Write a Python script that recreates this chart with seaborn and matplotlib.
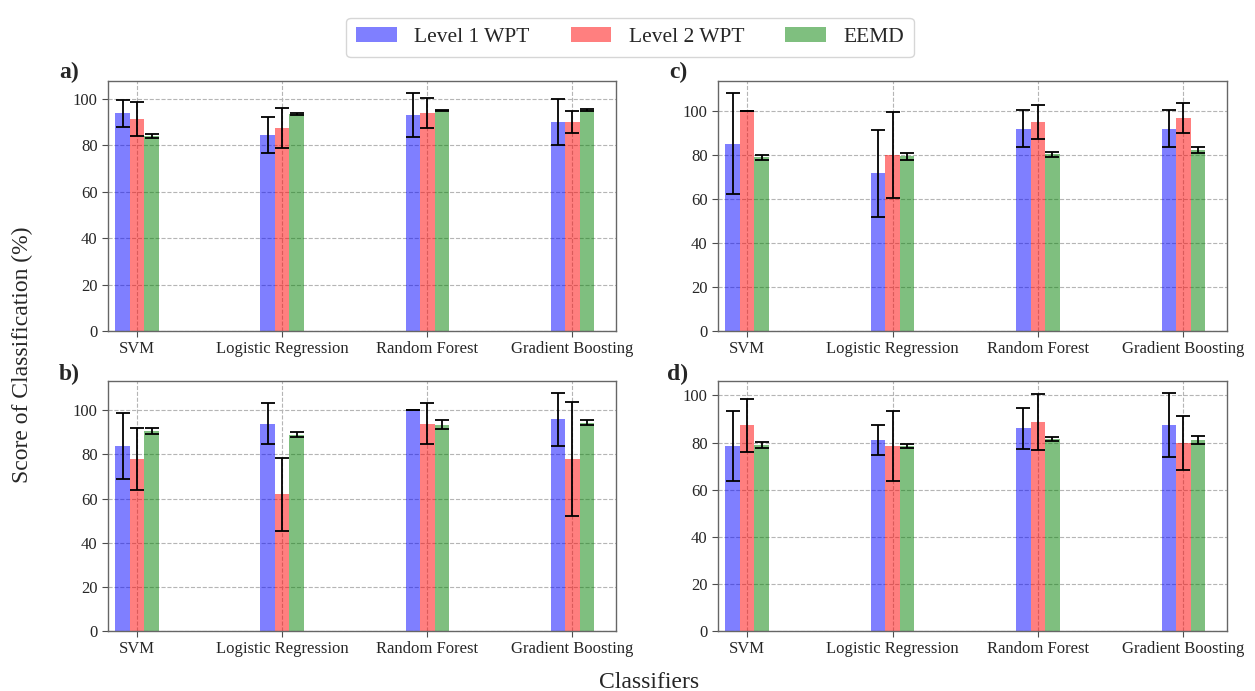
import numpy as np
import pandas as pd
import matplotlib
matplotlib.use("Agg")
import matplotlib.pyplot as plt
from matplotlib.patches import Patch
import seaborn as sns

classifiers = ["SVM", "Logistic Regression", "Random Forest", "Gradient Boosting"]
methods = ["Level 1 WPT", "Level 2 WPT", "EEMD"]

# panel a)
a_l1 = [93.8, 84.5, 93.1, 90.0]
a_l1_err = [5.8, 7.8, 9.4, 9.8]
a_l2 = [91.4, 87.5, 93.7, 90.0]
a_l2_err = [7.3, 8.7, 6.5, 4.9]
a_eemd = [84.1, 93.5, 95.0, 95.0]
a_eemd_err = [0.9, 0.3, 0.35, 0.5]

# panel b)
b_l1 = [84.0, 94.0, 100.0, 95.9]
b_l1_err = [15.0, 9.2, 0.0, 12.0]
b_l2 = [77.9, 61.9, 94.0, 77.9]
b_l2_err = [14.0, 16.7, 9.2, 26.0]
b_eemd = [90.8, 88.9, 93.4, 94.4]
b_eemd_err = [1.4, 1.1, 2.0, 1.2]

# panel c)
c_l1 = [85.0, 71.6, 91.7, 91.7]
c_l1_err = [23.0, 19.8, 8.4, 8.4]
c_l2 = [100.0, 80.0, 95.0, 96.7]
c_l2_err = [0.0, 19.5, 7.7, 6.7]
c_eemd = [78.7, 79.3, 80.1, 82.2]
c_eemd_err = [1.05, 1.6, 1.3, 1.3]

# panel d)
d_l1 = [78.7, 81.1, 86.1, 87.4]
d_l1_err = [14.9, 6.2, 8.8, 13.7]
d_l2 = [87.4, 78.6, 88.7, 79.9]
d_l2_err = [11.2, 15.0, 11.8, 11.5]
d_eemd = [79.0, 78.6, 81.5, 81.2]
d_eemd_err = [1.2, 1.0, 0.9, 1.8]

panels = [
    ("a)", (a_l1, a_l2, a_eemd), (a_l1_err, a_l2_err, a_eemd_err)),
    ("b)", (b_l1, b_l2, b_eemd), (b_l1_err, b_l2_err, b_eemd_err)),
    ("c)", (c_l1, c_l2, c_eemd), (c_l1_err, c_l2_err, c_eemd_err)),
    ("d)", (d_l1, d_l2, d_eemd), (d_l1_err, d_l2_err, d_eemd_err)),
]

colors = ["blue", "red", "green"]

sns.set_style("white")
plt.rcParams["font.family"] = ["Liberation Serif", "DejaVu Serif"]

fig = plt.figure(figsize=(12.55, 6.91), dpi=100)

W, H = 1255.0, 691.0
boxes = {
    "a)": (108, 81, 616, 331),
    "b)": (108, 381, 616, 631),
    "c)": (718, 81, 1227, 331),
    "d)": (718, 381, 1227, 631),
}
label_pos = {"a)": (59, 72), "b)": (59, 374), "c)": (669, 72), "d)": (667, 374)}

for tag, vals, errs in panels:
    x0, y0, x1, y1 = boxes[tag]
    ax = fig.add_axes([x0 / W, 1 - y1 / H, (x1 - x0) / W, (y1 - y0) / H])

    rows = []
    for m, v in zip(methods, vals):
        for c, s in zip(classifiers, v):
            rows.append({"Classifier": c, "Method": m, "Score": s})
    df = pd.DataFrame(rows)

    sns.barplot(data=df, x="Classifier", y="Score", hue="Method",
                order=classifiers, hue_order=methods, palette=colors,
                saturation=1, alpha=0.5, width=0.3, gap=0, errorbar=None,
                linewidth=0, legend=False, ax=ax, zorder=2)

    for cont, e in zip(ax.containers, errs):
        xs = [p.get_x() + p.get_width() / 2 for p in cont.patches]
        hs = [p.get_height() for p in cont.patches]
        ax.errorbar(xs, hs, yerr=e, fmt="none", ecolor="black",
                    elinewidth=1.3, capsize=5, capthick=1.3, zorder=3)

    ax.set_xlim(-0.2, 3.3)
    ax.margins(y=0.05)
    ax.autoscale(axis="y")
    ax.set_ylim(0, ax.get_ylim()[1])
    ax.set_yticks([0, 20, 40, 60, 80, 100])
    ax.grid(True, axis="both", linestyle="--", color="#b5b5b5", linewidth=0.8, zorder=0)
    ax.set_axisbelow(True)
    ax.set_xlabel("")
    ax.set_ylabel("")
    ax.tick_params(axis="both", labelsize=12, length=4, width=0.8,
                   color="0.3", direction="out", bottom=True, left=True)
    for sp in ax.spines.values():
        sp.set_color("0.4")
        sp.set_linewidth(1.0)

    lx, ly = label_pos[tag]
    fig.text(lx / W, 1 - ly / H, tag, fontsize=17, fontweight="bold",
             ha="left", va="center")

handles = [Patch(facecolor=c, alpha=0.5, edgecolor="none") for c in colors]
fig.legend(handles, methods, loc="upper center", bbox_to_anchor=(0.502, 0.99),
           ncol=3, fontsize=15.5, frameon=True, handlelength=1.9,
           handleheight=0.7, columnspacing=1.9, handletextpad=0.8,
           borderpad=0.45, edgecolor="#cccccc")

fig.text(22 / W, 0.486, "Score of Classification (%)", rotation=90,
         fontsize=17, ha="center", va="center")
fig.text(649 / W, 1 - 682 / H, "Classifiers", fontsize=17,
         ha="center", va="center")

fig.savefig("out.png", dpi=100)
